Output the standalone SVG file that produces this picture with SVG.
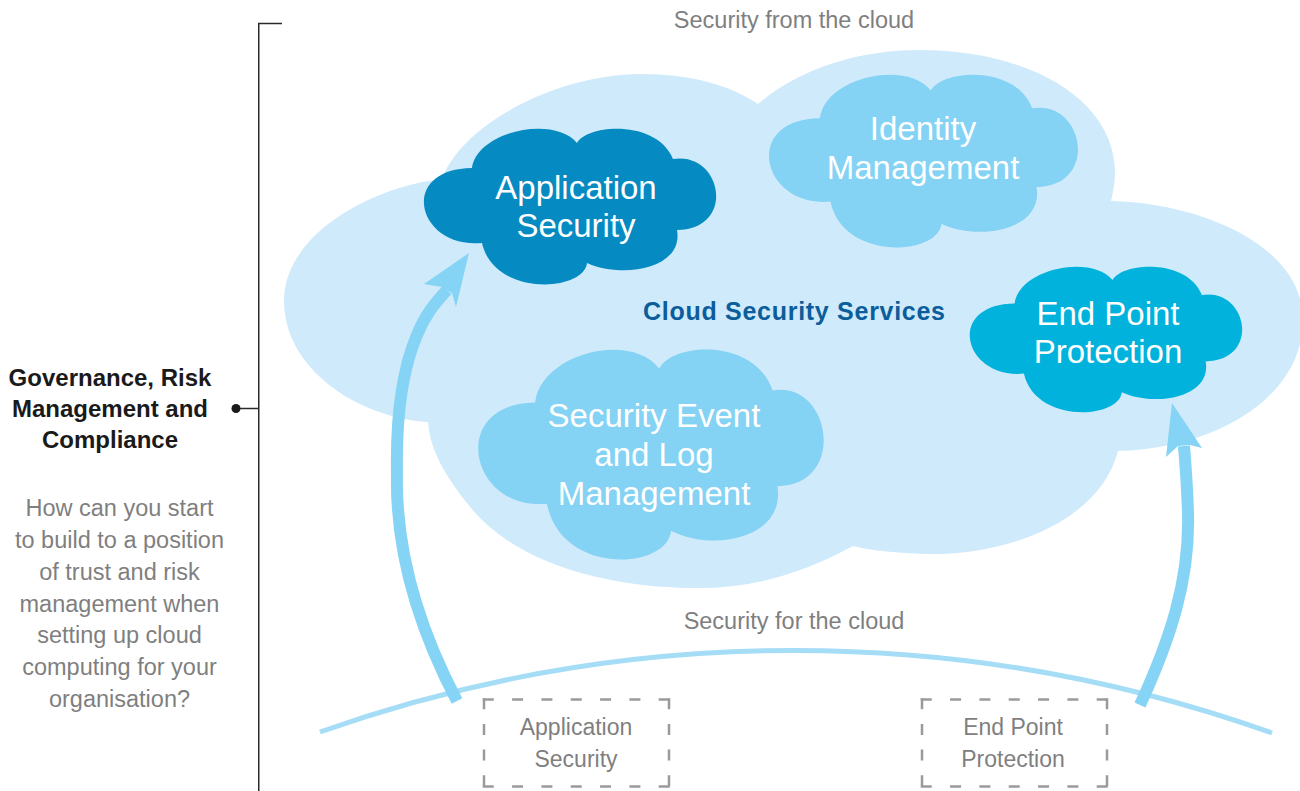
<svg xmlns="http://www.w3.org/2000/svg" width="1300" height="791" viewBox="0 0 1300 791">
  <style>
    .t { font-family: "Liberation Sans", Arial, sans-serif; text-anchor: middle; }
    .cl { font-size: 33px; fill: #ffffff; }
    .gray { font-size: 23.5px; fill: #7f7f7f; }
    .box-t { font-size: 23px; fill: #7f7f7f; }
    .bold { font-size: 24px; font-weight: bold; fill: #1a1a1a; }
    .svc { font-size: 25px; font-weight: bold; fill: #0b5d9b; }
    .dh { fill: none; stroke: #9a9a9a; stroke-width: 2.5; stroke-dasharray: 11 18.33; }
    .dv { fill: none; stroke: #9a9a9a; stroke-width: 2.5; stroke-dasharray: 11 14.67; }
    .shaft { fill: none; stroke: #85d3f5; stroke-width: 12; }
    .head { fill: #85d3f5; }
    .bracket { fill: none; stroke: #2a2a2a; stroke-width: 1.5; }
  </style>
  <defs>
    <path id="cloud" d="M50,39 C55,2 132,-14 155,14 C165,-5 235,-10 251,30 C300,22 315,100 255,101 C262,140 200,150 165,134 C162,163 72,168 60,114 C-5,120 -25,40 50,39 Z"/>
  </defs>

  <rect width="1300" height="791" fill="#ffffff"/>

  <!-- large background cloud -->
  <g id="cloud-security-services">
    <path fill="#cfeafa" d="M284,301 C284,235 370,187 442,179 C462,125 555,74 642,74 C690,74 730,85 758,104 C800,68 860,50 919,50 C1030,50 1115,100 1115,173 C1115,183 1113,192 1111,201 C1200,203 1303,245 1303,320 C1303,395 1220,448 1118,451 C1100,520 1010,556 925,554 C898,553 873,551 853,546 C800,575 750,588 699,588 C600,588 510,560 467,503 C445,475 430,450 428,422 C360,418 284,370 284,301 Z"/>
    <text class="t svc" x="794" y="320" textLength="302" lengthAdjust="spacing">Cloud Security Services</text>
  </g>

  <g id="node-application-security">
    <use href="#cloud" fill="#058ac2" transform="translate(422,129)"/>
    <text class="t cl" x="576" y="199">Application</text>
    <text class="t cl" x="576" y="237">Security</text>
  </g>

  <g id="node-identity-management">
    <use href="#cloud" fill="#84d2f4" transform="translate(767,75) scale(1.057,1.11)"/>
    <text class="t cl" x="923" y="140">Identity</text>
    <text class="t cl" x="923" y="179">Management</text>
  </g>

  <g id="node-end-point-protection">
    <use href="#cloud" fill="#00b2dc" transform="translate(968,267) scale(0.932,0.935)"/>
    <text class="t cl" x="1108" y="325">End Point</text>
    <text class="t cl" x="1108" y="363">Protection</text>
  </g>

  <g id="node-security-event">
    <use href="#cloud" fill="#84d2f4" transform="translate(476,350) scale(1.182,1.348)"/>
    <text class="t cl" x="654" y="427">Security Event</text>
    <text class="t cl" x="654" y="466">and Log</text>
    <text class="t cl" x="654" y="505">Management</text>
  </g>

  <!-- labels -->
  <g id="label-from-cloud">
    <text class="t gray" x="794" y="28">Security from the cloud</text>
  </g>
  <g id="label-for-cloud">
    <text class="t gray" x="794" y="629">Security for the cloud</text>
  </g>

  <!-- horizon -->
  <g id="horizon">
    <path d="M320,732 A1422,1422 0 0 1 1272,733" fill="none" stroke="#a6ddf6" stroke-width="5"/>
  </g>

  <!-- governance text -->
  <g id="node-governance">
    <text class="t bold" x="110" y="386">Governance, Risk</text>
    <text class="t bold" x="110" y="417">Management and</text>
    <text class="t bold" x="110" y="448">Compliance</text>
    <text class="t gray" x="119.5" y="516">How can you start</text>
    <text class="t gray" x="119.5" y="548">to build to a position</text>
    <text class="t gray" x="119.5" y="580">of trust and risk</text>
    <text class="t gray" x="119.5" y="612">management when</text>
    <text class="t gray" x="119.5" y="643">setting up cloud</text>
    <text class="t gray" x="119.5" y="675">computing for your</text>
    <text class="t gray" x="119.5" y="707">organisation?</text>
  </g>

  <!-- dashed boxes -->
  <g id="node-box-application-security">
    <line class="dh" x1="482.75" y1="699.5" x2="670.25" y2="699.5"/>
    <line class="dh" x1="482.75" y1="786.5" x2="670.25" y2="786.5"/>
    <line class="dv" x1="484" y1="698.25" x2="484" y2="787.75"/>
    <line class="dv" x1="669" y1="698.25" x2="669" y2="787.75"/>
    <text class="t box-t" x="576" y="735">Application</text>
    <text class="t box-t" x="576" y="767">Security</text>
  </g>
  <g id="node-box-end-point-protection">
    <line class="dh" x1="920.75" y1="699.5" x2="1108.25" y2="699.5"/>
    <line class="dh" x1="920.75" y1="786.5" x2="1108.25" y2="786.5"/>
    <line class="dv" x1="922" y1="698.25" x2="922" y2="787.75"/>
    <line class="dv" x1="1107" y1="698.25" x2="1107" y2="787.75"/>
    <text class="t box-t" x="1013" y="735">End Point</text>
    <text class="t box-t" x="1013" y="767">Protection</text>
  </g>

  <!-- connectors -->
  <g id="connectors">
    <path class="bracket" d="M282,23.5 H258.75 V791"/>
    <path class="bracket" d="M236,408.5 H258.75"/>
    <circle cx="236" cy="408.5" r="4.5" fill="#1a1a1a"/>

    <path class="shaft" d="M457,701 C425,640 395,560 397,473 C396,420 402,370 417,335 C425,315 435,303 447,290"/>
    <polygon class="head" points="469,253 424,284 442,287 452,293 456,307"/>

    <path class="shaft" d="M1140,705 C1170,640 1190,580 1188,513 C1187,480 1185,460 1184,446"/>
    <polygon class="head" points="1172,403 1166,457 1178,446 1190,445 1202,448"/>
  </g>
</svg>
